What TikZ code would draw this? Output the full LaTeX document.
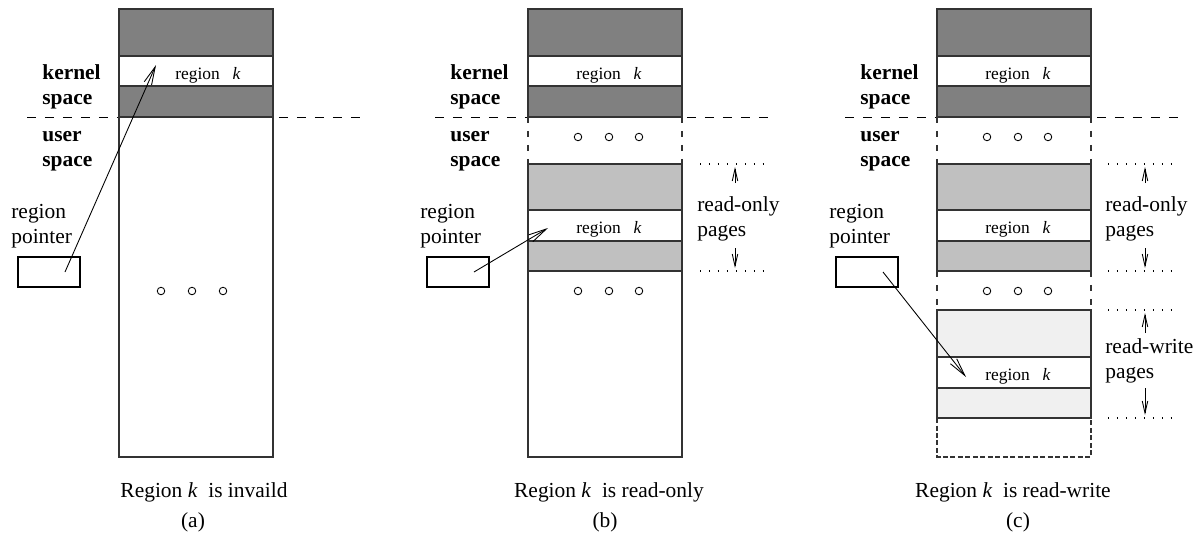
\documentclass[tikz,border=0pt]{standalone}
\usepackage{fontspec}
\setmainfont{Liberation Serif}
\usetikzlibrary{arrows.meta}
\definecolor{kgray}{HTML}{808080}
\definecolor{rogray}{HTML}{C0C0C0}
\definecolor{rwgray}{HTML}{F0F0F0}
\newcommand{\regk}{region\hspace{0.26cm}\textit{k}}

\begin{document}
\begin{tikzpicture}[
  x=0.02cm,y=-0.02cm,
  font=\fontsize{12.2}{14.2}\selectfont,
  col/.style={draw=black!80,line width=0.6pt},
  kblk/.style={col,fill=kgray},
  roblk/.style={col,fill=rogray},
  rwblk/.style={col,fill=rwgray},
  wblk/.style={col,fill=white},
  brk/.style={draw=black!80,line width=0.6pt,dash pattern=on 0.12cm off 0.16cm},
  fine/.style={draw=black!80,line width=0.6pt,dash pattern=on 0.1cm off 0.05cm},
  sep/.style={line width=0.5pt,dash pattern=on 0.18cm off 0.18cm},
  dots/.style={line width=0.6pt,dash pattern=on 0.6pt off 4.5pt},
  ktxt/.style={anchor=base,inner sep=0pt,font=\fontsize{9.9}{12}\selectfont},
  spc/.style={anchor=base west,inner sep=0pt,align=left,font=\fontsize{12.2}{14.2}\selectfont\bfseries},
  lbl/.style={anchor=base west,inner sep=0pt,align=left},
  ttl/.style={anchor=base,inner sep=0pt},
  ptr/.style={draw,line width=0.6pt,minimum width=1.24cm,minimum height=0.6cm,inner sep=0pt},
  dot/.style={circle,draw,line width=0.5pt,minimum size=0.15cm,inner sep=0pt},
  pa/.style={-{Straight Barb[length=0.36cm,width=0.16cm]},line width=0.5pt},
  sa/.style={-{Straight Barb[length=0.24cm,width=0.11cm]},line width=0.5pt,shorten >=0.06cm}]

\useasboundingbox (0,0) rectangle (1198,534);

% two-line labels: base anchor sits on the second line
% ------------------------------- (a) invalid -------------------------------
\draw[sep] (27,117) -- (366,117);
\draw[kblk] (119,9) rectangle (273,56);
\draw[wblk] (119,56) rectangle (273,86);
\draw[kblk] (119,86) rectangle (273,117);
\draw[wblk] (119,117) rectangle (273,457);
\node[ktxt] (kA) at (208,79) {\regk};
\node[spc] (ksA) at (42,104) {kernel\\space};
\node[spc] (usA) at (42,166) {user\\space};
\node[lbl] (rpA) at (11,243) {region\\pointer};
\node[ptr] (ptrA) at (49,272) {};
\node[dot] (dA1) at (161,291) {};
\node[dot] (dA2) at (192,291) {};
\node[dot] (dA3) at (223,291) {};
\coordinate (ptrAs) at ([xshift=0.32cm]ptrA.center);
\coordinate (kAtip) at (156,65);
\draw[pa] (ptrAs) -- (kAtip);
\node[ttl] (capA) at (204,497) {Region \textit{k}~ is invaild};
\node[ttl] (subA) at (193,527) {(a)};

% ------------------------------ (b) read-only ------------------------------
\draw[sep] (435,117) -- (775,117);
\draw[kblk] (528,9) rectangle (682,56);
\draw[wblk] (528,56) rectangle (682,86);
\draw[kblk] (528,86) rectangle (682,117);
\draw[brk] (528,117) -- (528,164) (682,117) -- (682,164);
\draw[roblk] (528,164) rectangle (682,210);
\draw[wblk] (528,210) rectangle (682,241);
\draw[roblk] (528,241) rectangle (682,271);
\draw[wblk] (528,271) rectangle (682,457);
\node[ktxt] (kB) at (609,79) {\regk};
\node[ktxt] (kB2) at (609,233) {\regk};
\node[spc] (ksB) at (450,104) {kernel\\space};
\node[spc] (usB) at (450,166) {user\\space};
\node[lbl] (rpB) at (420,243) {region\\pointer};
\node[ptr] (ptrB) at (458,272) {};
\node[dot] (dB1) at (578,137) {};
\node[dot] (dB2) at (609,137) {};
\node[dot] (dB3) at (639,137) {};
\node[dot] (dB4) at (578,291) {};
\node[dot] (dB5) at (609,291) {};
\node[dot] (dB6) at (639,291) {};
\coordinate (ptrBs) at ([xshift=0.32cm]ptrB.center);
\coordinate (kBtip) at (548,228);
\draw[pa] (ptrBs) -- (kBtip);
% read-only pages marker
\draw[dots] (700,164) -- (768,164) (700,271) -- (768,271);
\node[lbl] (roB) at (697,236) {read-only\\pages};
\coordinate (roBt) at (735,164);
\coordinate (roBb) at (735,271);
\coordinate (roBu) at (735,183);
\coordinate (roBd) at (735,248);
\draw[sa] (roBu) -- (roBt);
\draw[sa] (roBd) -- (roBb);
\node[ttl] (capB) at (609,497) {Region \textit{k}~ is read-only};
\node[ttl] (subB) at (605,527) {(b)};

% ----------------------------- (c) read-write ------------------------------
\draw[sep] (845,117) -- (1184,117);
\draw[kblk] (937,9) rectangle (1091,56);
\draw[wblk] (937,56) rectangle (1091,86);
\draw[kblk] (937,86) rectangle (1091,117);
\draw[brk] (937,117) -- (937,164) (1091,117) -- (1091,164);
\draw[roblk] (937,164) rectangle (1091,210);
\draw[wblk] (937,210) rectangle (1091,241);
\draw[roblk] (937,241) rectangle (1091,271);
\draw[brk] (937,271) -- (937,310) (1091,271) -- (1091,310);
\draw[rwblk] (937,310) rectangle (1091,357);
\draw[wblk] (937,357) rectangle (1091,388);
\draw[rwblk] (937,388) rectangle (1091,418);
\draw[fine] (937,418) -- (937,457) -- (1091,457) -- (1091,418);
\node[ktxt] (kC) at (1018,79) {\regk};
\node[ktxt] (kC2) at (1018,233) {\regk};
\node[ktxt] (kC3) at (1018,380) {\regk};
\node[spc] (ksC) at (860,104) {kernel\\space};
\node[spc] (usC) at (860,166) {user\\space};
\node[lbl] (rpC) at (829,243) {region\\pointer};
\node[ptr] (ptrC) at (867,272) {};
\node[dot] (dC1) at (987,137) {};
\node[dot] (dC2) at (1018,137) {};
\node[dot] (dC3) at (1048,137) {};
\node[dot] (dC4) at (987,291) {};
\node[dot] (dC5) at (1018,291) {};
\node[dot] (dC6) at (1048,291) {};
\coordinate (ptrCs) at ([xshift=0.32cm]ptrC.center);
\coordinate (kCtip) at (966,377);
\draw[pa] (ptrCs) -- (kCtip);
% read-only and read-write pages markers
\draw[dots] (1108,164) -- (1178,164) (1108,271) -- (1178,271);
\draw[dots] (1108,310) -- (1178,310) (1108,418) -- (1178,418);
\node[lbl] (roC) at (1105,236) {read-only\\pages};
\node[lbl] (rwC) at (1105,378) {read-write\\pages};
\coordinate (roCt) at (1145,164);
\coordinate (roCb) at (1145,271);
\coordinate (roCu) at (1145,183);
\coordinate (roCd) at (1145,248);
\coordinate (rwCt) at (1145,310);
\coordinate (rwCb) at (1145,418);
\coordinate (rwCu) at (1145,333);
\coordinate (rwCd) at (1145,388);
\draw[sa] (roCu) -- (roCt);
\draw[sa] (roCd) -- (roCb);
\draw[sa] (rwCu) -- (rwCt);
\draw[sa] (rwCd) -- (rwCb);
\node[ttl] (capC) at (1013,497) {Region \textit{k}~ is read-write};
\node[ttl] (subC) at (1018,527) {(c)};
\end{tikzpicture}
\end{document}
